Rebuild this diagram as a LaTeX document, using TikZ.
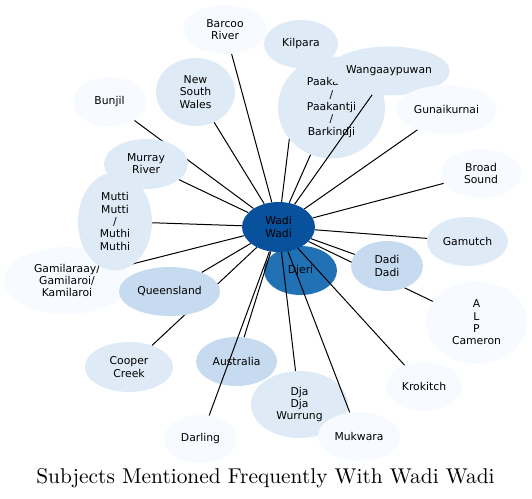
\documentclass[tikz,border=0pt]{standalone}
\usepackage{fontspec}
\newfontfamily\nodefont{DejaVu Sans}
\newfontfamily\titlefont{lmroman10-regular.otf}
\usetikzlibrary{shapes.geometric}
\pgfdeclarelayer{front}
\pgfsetlayers{main,front}
\definecolor{cA}{HTML}{08519C}
\definecolor{cB}{HTML}{2171B5}
\definecolor{cC}{HTML}{C6DBEF}
\definecolor{cD}{HTML}{DEEBF7}
\definecolor{cE}{HTML}{F7FBFF}
\tikzset{
  bub/.style 2 args={ellipse, inner sep=0pt, draw=none, align=center,
    minimum width=#1*1.5pt, minimum height=#2*1.5pt,
    font=\nodefont\fontsize{8.1}{9.2}\selectfont, text=black},
  edge/.style={draw=black, line width=0.75pt}
}
\begin{document}
\begin{tikzpicture}[x=0.75pt, y=-0.75pt]
\useasboundingbox (0,0) rectangle (532,499);
\begin{pgfonlayer}{front}
\node[bub={36.5}{25}, fill=cA] (wadi) at (278.5,227) {Wadi\\Wadi};
\end{pgfonlayer}
\node[bub={42}{24.5}, fill=cE] (barcoo) at (225,29.5) {Barcoo\\River};
\draw[edge] (wadi) -- (barcoo);
\node[bub={37}{24}, fill=cD] (kilpara) at (301,44) {Kilpara};
\draw[edge] (wadi) -- (kilpara);
\node[bub={53.5}{51}, fill=cD] (paak) at (331.5,107.5) {Paakantji\\/\\Paakantji\\/\\Barkindji};
\draw[edge] (wadi) -- (paak);
\node[bub={60}{24.5}, fill=cD] (wang) at (389,71) {Wangaaypuwan};
\draw[edge] (wadi) -- (wang);
\node[bub={50.5}{24.5}, fill=cE] (guna) at (446.5,109.5) {Gunaikurnai};
\draw[edge] (wadi) -- (guna);
\node[bub={40.5}{24.5}, fill=cE] (broad) at (481,173.5) {Broad\\Sound};
\draw[edge] (wadi) -- (broad);
\node[bub={40.5}{24.5}, fill=cD] (gamutch) at (467.5,241.5) {Gamutch};
\draw[edge] (wadi) -- (gamutch);
\node[bub={50.5}{41.5}, fill=cE] (alp) at (476.5,322.5) {A\\L\\P\\Cameron};
\draw[edge] (wadi) -- (alp);
\node[bub={36}{25}, fill=cC] (dadi) at (387,266) {Dadi\\Dadi};
\draw[edge] (wadi) -- (dadi);
\node[bub={36.5}{24.5}, fill=cB] (djeri) at (300.5,270.5) {Djeri};
\draw[edge] (wadi) -- (djeri);
\node[bub={38}{24.5}, fill=cE] (krok) at (424,386.5) {Krokitch};
\draw[edge] (wadi) -- (krok);
\node[bub={48.5}{33.5}, fill=cD] (dja) at (299.5,404.5) {Dja\\Dja\\Wurrung};
\draw[edge] (wadi) -- (dja);
\node[bub={41}{24.5}, fill=cE] (mukwara) at (359,436.5) {Mukwara};
\draw[edge] (wadi) -- (mukwara);
\node[bub={40.5}{24.5}, fill=cC] (aus) at (236.5,361.5) {Australia};
\draw[edge] (wadi) -- (aus);
\node[bub={36.5}{24}, fill=cE] (darling) at (200.5,439) {Darling};
\draw[edge] (wadi) -- (darling);
\node[bub={44}{25}, fill=cD] (cooper) at (129,367) {Cooper\\Creek};
\draw[edge] (wadi) -- (cooper);
\node[bub={63}{33.5}, fill=cE] (gamil) at (67,280.5) {Gamilaraay/\\Gamilaroi/\\Kamilaroi};
\draw[edge] (wadi) -- (gamil);
\node[bub={50.5}{24.5}, fill=cC] (qld) at (169.5,291.5) {Queensland};
\draw[edge] (wadi) -- (qld);
\node[bub={37}{49}, fill=cD] (mutti) at (115,221.5) {Mutti\\Mutti\\/\\Muthi\\Muthi};
\draw[edge] (wadi) -- (mutti);
\node[bub={36.5}{25}, fill=cE] (bunjil) at (109.5,102) {Bunjil};
\draw[edge] (wadi) -- (bunjil);
\node[bub={42}{25}, fill=cD] (murray) at (146,164) {Murray\\River};
\draw[edge] (wadi) -- (murray);
\node[bub={39.5}{34}, fill=cD] (nsw) at (195.5,92) {New\\South\\Wales};
\draw[edge] (wadi) -- (nsw);
\node[font=\titlefont\fontsize{16.05}{20}\selectfont, inner sep=0pt, anchor=base] (title) at (265.5,483) {Subjects Mentioned Frequently With Wadi Wadi};
\end{tikzpicture}
\end{document}
